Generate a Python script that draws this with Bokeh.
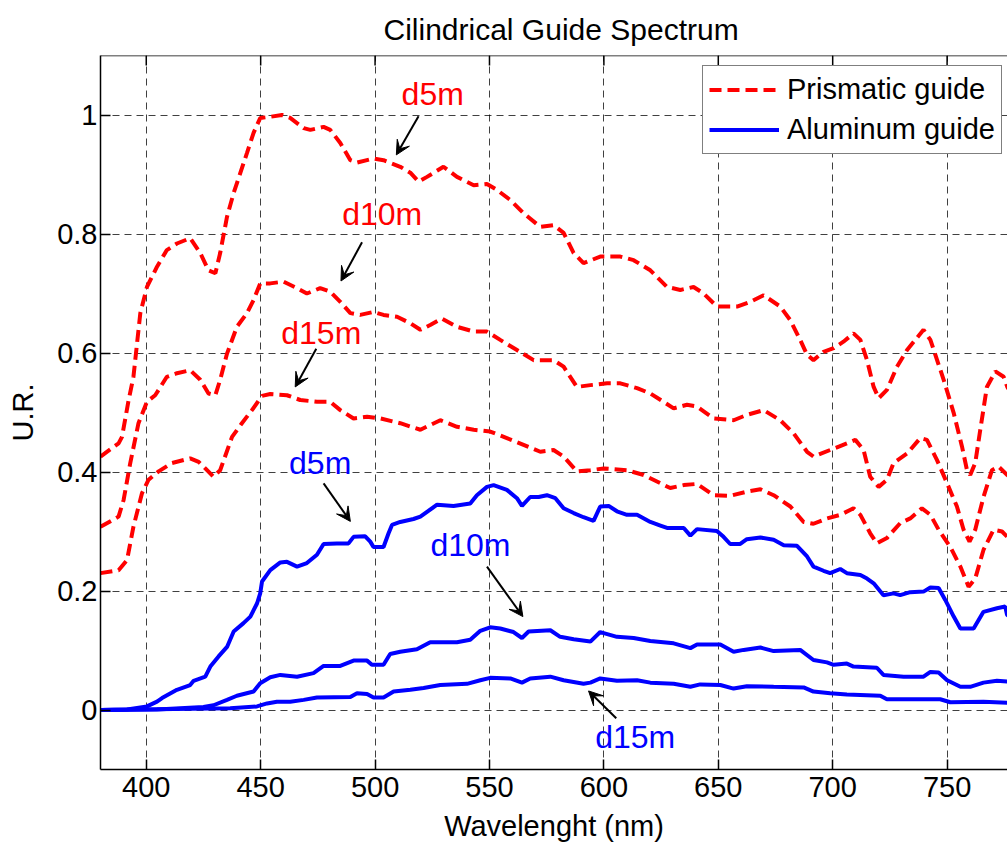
import math
from bokeh.plotting import figure
from bokeh.models import (Range1d, FixedTicker, Legend, LegendItem,
                          Arrow, VeeHead, Label, Span)
from bokeh.embed import file_html
from bokeh.resources import INLINE

FONT = "Liberation Sans"

# ---------------- data ----------------
x_ticks = [400, 450, 500, 550, 600, 650, 700, 750]
y_ticks = [0, 0.2, 0.4, 0.6, 0.8, 1]
y_tick_labels = ["0", "0.2", "0.4", "0.6", "0.8", "1"]

# Prismatic guide, 5 m
pr5_x = [380, 387.9, 389.4, 392.3, 394.4, 397.4, 400.3, 404.7, 409.0, 413.4, 419.2, 423.6,
         427.2, 430.2, 432.3, 435.3, 438.2, 444.0, 446.9, 449.8, 454.2, 459.3, 462.9, 468.8,
         471.7, 477.5, 480.4, 484.8, 489.2, 492.1, 499.3, 503.7, 511.0, 515.4, 519.0, 522.7,
         529.9, 535.8, 543.1, 548.9, 553.3, 559.1, 564.9, 572.2, 578.0, 582.4, 586.8, 591.1,
         598.4, 607.2, 613.0, 620.3, 627.6, 633.4, 639.2, 643.6, 649.4, 658.2, 664.0, 669.8,
         677.1, 681.5, 685.8, 688.8, 691.6, 696.0, 700.4, 704.7, 709.1, 712.1, 715.0, 717.9,
         720.1, 723.7, 728.1, 732.5, 739.7, 742.7, 748.5, 752.9, 756.5, 758.7, 760.1, 762.3,
         764.5, 767.4, 771.1, 774.7, 776.3, 780]
pr5_y = [0.426, 0.448, 0.459, 0.521, 0.560, 0.667, 0.711, 0.745, 0.773, 0.784, 0.793, 0.768,
         0.739, 0.734, 0.768, 0.829, 0.869, 0.936, 0.970, 0.995, 0.997, 1.000, 0.995, 0.978,
         0.975, 0.980, 0.975, 0.953, 0.924, 0.920, 0.927, 0.924, 0.913, 0.903, 0.888, 0.896,
         0.913, 0.896, 0.882, 0.884, 0.874, 0.857, 0.835, 0.812, 0.815, 0.802, 0.768, 0.751,
         0.762, 0.762, 0.756, 0.739, 0.711, 0.706, 0.711, 0.700, 0.678, 0.678, 0.686, 0.697,
         0.678, 0.655, 0.622, 0.597, 0.588, 0.602, 0.608, 0.619, 0.633, 0.622, 0.588, 0.543,
         0.524, 0.538, 0.577, 0.605, 0.639, 0.622, 0.555, 0.499, 0.443, 0.403, 0.395, 0.415,
         0.471, 0.543, 0.569, 0.560, 0.543, 0.52]

# Prismatic guide, 10 m
pr10_x = [380, 387.9, 390.1, 393.0, 396.6, 400.3, 403.9, 409.0, 413.4, 419.2, 423.6, 427.2,
          430.2, 432.3, 435.3, 439.6, 444.0, 446.9, 449.8, 454.2, 460.0, 465.9, 470.2, 476.0,
          480.4, 484.8, 489.2, 493.5, 499.3, 503.7, 509.6, 515.4, 519.8, 524.1, 529.2, 535.8,
          543.1, 548.9, 554.7, 562.0, 569.3, 575.1, 578.0, 582.4, 588.2, 594.1, 601.4, 607.2,
          614.5, 620.3, 630.5, 636.3, 640.7, 648.0, 656.7, 662.5, 669.8, 677.1, 682.9, 688.8,
          691.6, 698.9, 706.2, 709.9, 713.5, 716.4, 720.1, 723.7, 726.6, 732.5, 738.3, 741.2,
          745.6, 750.0, 754.3, 757.2, 759.8, 762.3, 765.9, 769.6, 772.5, 776.3, 780]
pr10_y = [0.308, 0.325, 0.353, 0.415, 0.482, 0.518, 0.529, 0.560, 0.566, 0.571, 0.555, 0.532,
          0.529, 0.555, 0.599, 0.644, 0.667, 0.689, 0.717, 0.717, 0.720, 0.709, 0.700, 0.709,
          0.703, 0.686, 0.667, 0.664, 0.669, 0.664, 0.661, 0.650, 0.639, 0.647, 0.658, 0.644,
          0.636, 0.636, 0.622, 0.605, 0.588, 0.588, 0.588, 0.577, 0.543, 0.546, 0.549, 0.549,
          0.541, 0.532, 0.507, 0.513, 0.510, 0.490, 0.487, 0.496, 0.504, 0.487, 0.465, 0.434,
          0.426, 0.437, 0.448, 0.454, 0.437, 0.392, 0.375, 0.387, 0.415, 0.431, 0.457, 0.454,
          0.420, 0.381, 0.342, 0.303, 0.283, 0.303, 0.358, 0.403, 0.409, 0.395, 0.38]

# Prismatic guide, 15 m
pr15_x = [380, 387.9, 391.6, 394.4, 398.1, 401.0, 405.4, 411.2, 419.2, 422.9, 425.8, 429.4,
          432.3, 437.5, 441.8, 446.2, 450.6, 454.2, 461.5, 467.3, 474.6, 480.4, 484.8, 490.6,
          496.5, 502.3, 511.0, 519.8, 528.5, 535.8, 543.1, 550.3, 557.6, 572.2, 578.0, 582.4,
          588.2, 594.1, 599.9, 610.1, 617.4, 623.2, 629.0, 634.9, 640.7, 648.0, 655.2, 662.5,
          668.4, 674.2, 681.5, 687.3, 691.6, 697.5, 703.3, 709.1, 712.1, 716.4, 719.3, 723.7,
          729.5, 733.9, 739.0, 742.7, 746.3, 751.4, 755.8, 759.4, 762.3, 765.9, 770.3, 774.0,
          776.3, 780]
pr15_y = [0.230, 0.235, 0.252, 0.308, 0.364, 0.387, 0.401, 0.415, 0.423, 0.417, 0.406, 0.392,
          0.403, 0.459, 0.482, 0.504, 0.528, 0.531, 0.529, 0.521, 0.518, 0.518, 0.504, 0.490,
          0.493, 0.490, 0.482, 0.471, 0.487, 0.476, 0.471, 0.468, 0.457, 0.434, 0.437, 0.426,
          0.401, 0.403, 0.406, 0.403, 0.395, 0.384, 0.373, 0.378, 0.380, 0.361, 0.360, 0.367,
          0.371, 0.361, 0.342, 0.316, 0.313, 0.322, 0.328, 0.339, 0.328, 0.297, 0.280, 0.289,
          0.314, 0.322, 0.339, 0.328, 0.303, 0.274, 0.241, 0.207, 0.221, 0.269, 0.303, 0.300,
          0.291, 0.28]

# Aluminum guide, 5 m
al5_x = [380, 391.6, 400.3, 404.7, 406.9, 413.4, 419.2, 420.7, 425.8, 428.0, 431.6, 435.3,
         438.2, 442.5, 445.5, 448.4, 449.8, 450.6, 454.2, 458.6, 461.5, 465.9, 470.2, 474.6,
         477.5, 483.3, 488.4, 490.6, 495.7, 497.9, 499.3, 503.7, 505.9, 507.4, 511.0, 516.8,
         519.8, 522.7, 527.1, 534.3, 541.6, 544.5, 548.9, 551.8, 557.6, 562.0, 564.2, 567.8,
         571.5, 575.1, 578.8, 582.4, 586.8, 591.1, 595.5, 598.4, 602.1, 605.7, 610.1, 614.5,
         620.3, 624.7, 627.6, 634.9, 637.8, 640.7, 649.4, 652.3, 655.2, 659.6, 662.5, 668.4,
         674.2, 678.6, 684.4, 688.8, 691.6, 696.0, 698.9, 703.3, 706.2, 712.1, 715.0, 717.9,
         722.2, 726.6, 729.5, 733.9, 739.7, 742.7, 746.3, 749.2, 752.9, 755.8, 761.6, 765.9,
         771.8, 775.4, 776.2, 780]
al5_y = [0.000, 0.001, 0.006, 0.014, 0.020, 0.034, 0.042, 0.049, 0.056, 0.073, 0.090, 0.106,
         0.132, 0.146, 0.157, 0.179, 0.196, 0.216, 0.235, 0.248, 0.249, 0.241, 0.247, 0.261,
         0.279, 0.280, 0.280, 0.291, 0.292, 0.283, 0.274, 0.274, 0.297, 0.311, 0.316, 0.321,
         0.325, 0.333, 0.345, 0.343, 0.347, 0.361, 0.375, 0.378, 0.370, 0.356, 0.343, 0.358,
         0.358, 0.361, 0.356, 0.339, 0.331, 0.324, 0.318, 0.342, 0.343, 0.334, 0.328, 0.328,
         0.316, 0.310, 0.306, 0.306, 0.293, 0.304, 0.301, 0.291, 0.279, 0.279, 0.287, 0.290,
         0.286, 0.277, 0.276, 0.258, 0.241, 0.234, 0.230, 0.237, 0.230, 0.227, 0.221, 0.213,
         0.193, 0.196, 0.193, 0.198, 0.199, 0.206, 0.205, 0.185, 0.157, 0.137, 0.137, 0.165,
         0.171, 0.174, 0.160, 0.15]

# Aluminum guide, 10 m
al10_x = [380, 404.7, 425.0, 429.4, 435.3, 439.6, 446.9, 449.8, 454.2, 458.6, 465.9, 473.1,
          477.5, 484.8, 490.6, 496.5, 498.6, 503.7, 506.6, 511.0, 518.3, 524.1, 535.8, 541.6,
          546.0, 550.3, 554.7, 560.5, 564.2, 567.1, 576.6, 580.9, 586.8, 594.1, 598.4, 605.7,
          613.0, 620.3, 630.5, 637.8, 640.7, 650.9, 656.7, 661.1, 668.4, 674.2, 685.8, 691.6,
          697.5, 700.4, 706.2, 709.1, 719.3, 722.2, 731.0, 739.7, 742.7, 746.3, 750.0, 755.8,
          760.1, 765.9, 771.8, 776.2, 780]
al10_y = [0.000, 0.001, 0.005, 0.008, 0.017, 0.024, 0.031, 0.045, 0.055, 0.059, 0.056, 0.062,
          0.074, 0.074, 0.083, 0.083, 0.076, 0.076, 0.094, 0.098, 0.102, 0.114, 0.114, 0.118,
          0.133, 0.139, 0.137, 0.131, 0.121, 0.132, 0.134, 0.123, 0.119, 0.115, 0.131, 0.123,
          0.121, 0.116, 0.112, 0.104, 0.110, 0.110, 0.098, 0.101, 0.105, 0.099, 0.101, 0.084,
          0.080, 0.076, 0.078, 0.073, 0.071, 0.059, 0.056, 0.056, 0.064, 0.063, 0.050, 0.039,
          0.039, 0.046, 0.049, 0.048, 0.047]

# Aluminum guide, 15 m
al15_x = [380, 436.7, 448.4, 452.8, 457.1, 462.9, 468.8, 474.6, 489.2, 492.1, 496.5, 499.3,
          503.7, 508.1, 515.4, 521.2, 528.5, 540.2, 546.0, 550.3, 559.1, 564.2, 567.8, 576.6,
          582.4, 591.1, 594.1, 598.4, 605.7, 614.5, 620.3, 630.5, 637.8, 642.1, 650.9, 656.7,
          662.5, 674.2, 687.3, 691.6, 698.9, 706.2, 720.8, 723.7, 738.3, 747.0, 751.4, 765.9,
          776.2, 780]
al15_y = [0.000, 0.003, 0.006, 0.011, 0.014, 0.014, 0.017, 0.021, 0.022, 0.028, 0.027, 0.021,
          0.021, 0.031, 0.034, 0.037, 0.042, 0.044, 0.050, 0.054, 0.053, 0.046, 0.053, 0.056,
          0.050, 0.044, 0.046, 0.053, 0.049, 0.050, 0.046, 0.044, 0.039, 0.043, 0.042, 0.036,
          0.040, 0.039, 0.038, 0.031, 0.028, 0.026, 0.024, 0.018, 0.018, 0.018, 0.013, 0.014,
          0.012, 0.012]

# annotations: text, colour, text position, arrow start, arrow end
ann_text = ["d5m", "d10m", "d15m", "d5m", "d10m", "d15m"]
ann_color = ["#FF0000", "#FF0000", "#FF0000", "#0000FF", "#0000FF", "#0000FF"]
ann_x = [525.2, 503.1, 476.5, 476.0, 541.7, 613.7]
ann_y = [1.035, 0.834, 0.634, 0.415, 0.277, -0.045]
arr_x0 = [519.0, 494.3, 474.3, 477.5, 548.9, 605.4]
arr_y0 = [0.998, 0.786, 0.607, 0.381, 0.241, -0.014]
arr_x1 = [509.3, 485.1, 465.1, 489.2, 564.6, 593.3]
arr_y1 = [0.933, 0.721, 0.543, 0.317, 0.157, 0.032]

series_labels = ["Prismatic guide", "Aluminum guide"]

X_MIN, X_MAX = 380, 776.4
Y_MIN, Y_MAX = -0.1, 1.1

# ---------------- figure ----------------
p = figure(width=1007, height=845, output_backend="svg", toolbar_location=None,
           x_range=Range1d(X_MIN, X_MAX), y_range=Range1d(Y_MIN, Y_MAX),
           title="Cilindrical Guide Spectrum",
           min_border_left=100, min_border_right=0, min_border_top=55, min_border_bottom=76)
p.outline_line_color = None
p.background_fill_color = "white"
p.border_fill_color = "white"

p.title.text_font = FONT
p.title.text_font_size = "30px"
p.title.text_font_style = "normal"
p.title.text_color = "black"
p.title.align = "left"
p.title.offset = 283
p.title.standoff = 20

RED = "#FF0000"
BLUE = "#0000FF"
red_kw = dict(line_color=RED, line_width=4, line_dash="12 6")
blue_kw = dict(line_color=BLUE, line_width=4)

r1 = p.line(pr5_x, pr5_y, **red_kw)
p.line(pr10_x, pr10_y, **red_kw)
p.line(pr15_x, pr15_y, **red_kw)
r2 = p.line(al5_x, al5_y, **blue_kw)
p.line(al10_x, al10_y, **blue_kw)
p.line(al15_x, al15_y, **blue_kw)

# axes
for ax in (p.xaxis[0], p.yaxis[0]):
    ax.major_tick_in = 10
    ax.major_tick_out = 0
    ax.minor_tick_line_color = None
    ax.axis_line_width = 1.5
    ax.major_tick_line_width = 1.5
    ax.axis_line_color = "black"
    ax.major_label_text_font = FONT
    ax.major_label_text_font_size = "29px"
    ax.major_label_text_color = "black"
    ax.axis_label_text_font = FONT
    ax.axis_label_text_font_size = "29px"
    ax.axis_label_text_font_style = "normal"
    ax.axis_label_text_color = "black"

p.xaxis.ticker = FixedTicker(ticks=x_ticks)
p.yaxis.ticker = FixedTicker(ticks=y_ticks)
p.yaxis.major_label_overrides = {t: s for t, s in zip(y_ticks, y_tick_labels)}
p.xaxis.axis_label = "Wavelenght (nm)"
p.yaxis.axis_label = "U.R."
p.xaxis.major_label_standoff = 7
p.xaxis.axis_label_standoff = 10
p.yaxis.major_label_standoff = 3
p.yaxis.axis_label_standoff = 15

# top border of the box, with inward ticks
p.add_layout(Span(location=Y_MAX, dimension="width", line_color="black", line_width=1.5))
p.ray(x=x_ticks, y=[Y_MAX] * len(x_ticks), length=10, length_units="screen",
      angle=-math.pi / 2, line_color="black", line_width=1.5)

# grid
for g in (p.xgrid[0], p.ygrid[0]):
    g.grid_line_color = "black"
    g.grid_line_alpha = 0.75
    g.grid_line_dash = "7 5"
    g.grid_line_width = 1
p.xgrid.ticker = FixedTicker(ticks=x_ticks)
p.ygrid.ticker = FixedTicker(ticks=y_ticks)

# annotations
for t, c, x, y, x0, y0, x1, y1 in zip(ann_text, ann_color, ann_x, ann_y,
                                      arr_x0, arr_y0, arr_x1, arr_y1):
    p.add_layout(Label(x=x, y=y, text=t, text_color=c, text_font=FONT,
                       text_font_size="32px", text_align="center", text_baseline="middle"))
    p.add_layout(Arrow(x_start=x0, y_start=y0, x_end=x1, y_end=y1,
                       line_color="black", line_width=2,
                       end=VeeHead(size=14, fill_color="black", line_color="black",
                                   line_width=1)))

# legend
legend = Legend(items=[LegendItem(label=series_labels[0], renderers=[r1]),
                       LegendItem(label=series_labels[1], renderers=[r2])],
                location=(602, 615), orientation="vertical")
legend.label_text_font = FONT
legend.label_text_font_size = "29px"
legend.label_text_color = "black"
legend.glyph_width = 70
legend.glyph_height = 35
legend.label_height = 35
legend.label_standoff = 8
legend.spacing = 5
legend.padding = 6
legend.margin = 0
legend.border_line_color = "black"
legend.border_line_width = 1.5
legend.background_fill_color = "white"
legend.background_fill_alpha = 1
p.add_layout(legend, "center")

open("out.html", "w").write(file_html(p, INLINE))
